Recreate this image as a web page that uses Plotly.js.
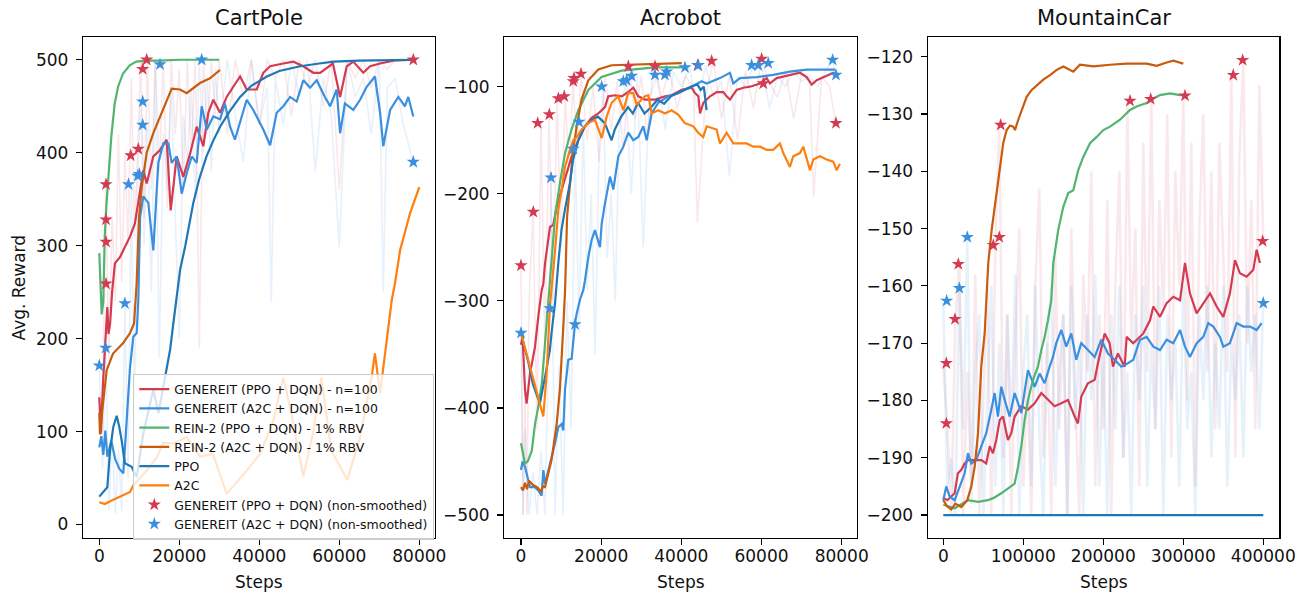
<!DOCTYPE html>
<html><head><meta charset="utf-8">
<script src="https://cdn.plot.ly/plotly-3.0.1.min.js"></script>
<style>html,body{margin:0;padding:0;background:#fff}#chart{width:1307px;height:595px}</style>
</head><body><div id="chart"></div>
<script>
// ---------------- CartPole ----------------
const cpGenPpoX = [0,200,400,900,1550,2000,2300,2700,3200,3900,5200,6400,7700,8900,9750,11000,11850,13500,15200,16850,17850,19350,21000,22700,24350,26000,27250,28500,30200,31850,33500,35200,36850,39350,41000,42700,46000,48500,51000,53500,55200,58400,60200,61850,63500,66000,67700,70200,73500,78500];
const cpGenPpoY = [137,120,98,150,200,234,205,216,250,281,288,299,310,324,346,381,367,396,403,414,338,396,374,399,428,407,443,457,443,460,471,482,468,468,486,493,496,498,493,486,486,496,460,493,498,486,493,496,499,500];
const cpGenA2cX = [0,500,1000,1500,2000,3000,4000,5000,6000,7000,7700,8500,9350,9750,10200,11000,12250,13500,14750,16000,17250,18100,19350,20600,21850,23100,24350,25600,26850,28500,30200,31400,32700,33900,35200,36850,38500,41000,42700,44350,46000,47700,49350,51000,52700,54350,56400,57700,59350,60200,61400,63500,65200,66850,68900,70200,71000,72700,74750,76400,77250,78500];
const cpGenA2cY = [83,95,75,101,73,90,70,60,55,123,170,202,206,241,331,353,346,295,389,410,410,389,396,356,378,396,389,450,425,439,436,453,428,414,432,457,446,425,408,443,450,460,455,478,470,478,460,450,468,421,453,446,457,471,482,443,407,446,460,450,460,439];
const cpReinPpoX = [0,300,600,1000,1350,1800,2200,3000,3850,4700,5900,7600,9250,12000,15000,20000,25000,30000];
const cpReinPpoY = [292,250,226,240,309,345,370,417,453,471,485,494,498,499,499,500,500,500];
const cpReinA2cX = [0,175,925,1850,3425,5925,7675,8675,9350,9925,10600,11850,13500,15175,16850,18100,20175,21850,25175,27675,30175];
const cpReinA2cY = [120,97,130,166,184,195,206,216,260,330,363,400,421,439,457,469,468,464,475,480,489];
const cpPpoX = [0,1000,2000,2700,3500,4350,5000,5600,6400,8100,9350,11000,13500,14800,16000,17700,18500,20200,21500,23500,25000,26800,28500,30200,32500,35200,38000,41900,45000,50200,55000,58500,65000,78500];
const cpPpoY = [30,35,40,80,105,117,105,90,66,62,51,98,145,120,150,188,216,274,300,346,372,396,413,428,444,460,472,482,488,493,496,498,499,500];
const cpA2cX = [0,1400,2700,5200,7700,8500,11850,14350,16000,18400,21850,25200,28400,31850,36850,40200,43400,46000,48000,51000,53500,55500,58000,62000,65200,68100,68900,70200,72250,73100,73900,75200,77700,80000];
const cpA2cY = [24,22,25,30,35,42,58,72,88,87,94,73,76,33,58,76,110,158,120,52,100,158,80,48,94,159,184,141,216,241,259,295,335,363];
const cpRawRedX = [0,800,1600,2400,3200,4000,4800,5600,6400,7200,8000,8800,9600,10400,11200,12000,13000,14000,15000,16000,17000,18000,19000,20000,21000,22000,23000,24000,25000,26000,27000,28000,29000,30000,32000,34000,36000,38000,40000,42000,44000,46000,48000,50000,52000,54000,56000,58000,60000,62000,64000,66000,68000,70000,72000,74000,76000,78500];
const cpRawRedY = [137,100,366,180,330,240,420,260,397,300,480,310,404,500,330,500,360,500,380,500,340,500,420,490,360,500,400,500,190,500,420,500,440,500,420,500,460,500,430,500,480,500,440,500,470,500,450,500,360,500,480,500,470,500,490,500,500,500];
const cpRawBlueX = [0,800,1600,2400,3200,4000,4800,5600,6400,7200,8000,8800,9600,10400,11200,12000,13000,14000,15000,16000,17000,18000,19000,20000,21000,22000,23000,24000,25000,26000,27000,28000,29000,30000,32000,34000,36000,38000,40000,42000,43000,44000,46000,48000,50000,52000,54000,56000,58000,60000,62000,64000,66000,68000,70000,71000,72000,74000,76000,78500];
const cpRawBlueY = [171,60,190,15,100,12,80,14,238,50,365,120,374,455,300,430,250,495,180,420,360,470,330,200,440,390,470,350,500,400,480,380,490,420,500,440,390,500,430,470,240,480,430,500,460,500,380,480,440,298,500,460,480,420,500,250,470,480,430,390];
const cpStarRedX = [1675,1675,1675,1675,7850,9750,10850,11850,78500];
const cpStarRedY = [366,328,304,259,397,404,490,500,500];
const cpStarBlueX = [0,1600,6400,7300,9600,10000,10850,10850,15175,25600,78500];
const cpStarBlueY = [171,190,238,366,375,377,430,455,495,500,390];

// ---------------- Acrobot ----------------
const acGenPpoX = [0,400,1000,1400,2250,3490,4310,5150,5570,6000,7230,8060,8900,10150,11390,12640,14290,15960,17630,19280,20950,21770,23440,25110,26760,28010,29260,30930,33420,35910,37580,40080,42570,43400,44240,44670,45490,47160,48800,50460,51300,52130,53790,55460,57130,59620,61260,62100,63770,67100,69590,71260,72510,73760,75400,77900,78320];
const acGenPpoY = [-341,-334,-383,-396,-368,-343,-315,-290,-284,-265,-231,-229,-212,-196,-181,-165,-150,-137,-129,-125,-119,-109,-108,-109,-105,-101,-109,-112,-112,-109,-108,-103,-101,-106,-109,-125,-115,-109,-105,-105,-109,-112,-103,-101,-100,-97,-92,-97,-92,-89,-87,-91,-98,-94,-91,-87,-89];
const acGenA2cX = [0,400,1000,2250,3490,4310,5150,5570,6000,7650,8480,9300,10150,10550,10970,11800,12640,13470,13890,14710,15540,15960,16800,17630,18450,19700,20130,20950,22200,23030,24280,25520,26770,28010,29260,30510,31350,32590,34230,36730,39220,42550,45040,46310,49630,52120,52950,54620,58780,62920,67080,71250,75400,78320];
const acGenA2cY = [-458,-450,-455,-474,-474,-477,-482,-458,-471,-446,-433,-418,-415,-421,-383,-355,-354,-321,-312,-299,-290,-281,-259,-243,-234,-250,-228,-209,-184,-196,-165,-156,-143,-150,-147,-137,-150,-125,-115,-109,-106,-100,-95,-97,-92,-87,-97,-92,-91,-89,-86,-84,-84,-84];
const acReinPpoX = [0,1000,1700,2700,3500,4300,5200,6000,6800,7700,8500,9700,11000,12600,14300,16800,20100,25100,33400,40100];
const acReinPpoY = [-433,-452,-450,-440,-415,-399,-377,-337,-302,-259,-221,-190,-162,-140,-122,-103,-91,-85,-82,-82];
const acReinA2cX = [0,500,1000,1500,2000,2500,3000,4000,5000,5500,6000,6500,7600,8900,9700,10600,11000,11500,12200,13000,13900,15100,16800,19300,22600,29300,40100];
const acReinA2cY = [-474,-477,-470,-476,-468,-470,-472,-474,-478,-473,-474,-466,-449,-415,-383,-321,-290,-221,-190,-159,-137,-112,-94,-84,-80,-79,-78];
const acPpoX = [0,1000,2000,3000,4700,6000,7200,7700,8500,9300,10100,10950,12200,13000,14300,15900,17600,19200,20900,22600,23400,25000,26700,27900,29200,30800,32500,34100,35700,37400,39000,40700,42300,44000,44800,45600,46300];
const acPpoY = [-330,-345,-360,-378,-396,-371,-346,-327,-302,-265,-234,-215,-190,-168,-150,-137,-131,-128,-134,-150,-140,-128,-119,-125,-115,-125,-119,-112,-116,-109,-106,-103,-100,-98,-103,-100,-122];
const acA2cX = [0,5560,6400,7200,8500,9300,10150,10970,12200,13050,13890,15130,16800,18450,20130,21370,22620,24260,25520,26760,28010,28850,30090,30930,31750,32590,34230,35900,37560,39210,40880,42970,44200,45470,46310,48800,49630,51300,52950,54620,56290,57940,59610,61280,62920,64590,65420,67080,67910,69580,70410,71250,72080,72900,74570,76240,77890,78730,79560];
const acA2cY = [-330,-408,-368,-306,-253,-215,-196,-175,-159,-150,-147,-140,-134,-131,-148,-128,-115,-109,-122,-106,-106,-117,-112,-109,-108,-125,-122,-125,-122,-126,-134,-137,-143,-147,-137,-140,-153,-143,-153,-153,-153,-156,-156,-159,-159,-153,-162,-175,-165,-162,-156,-167,-178,-168,-165,-168,-170,-178,-172];
const acRawRedX = [0,500,1000,1500,2000,3000,4000,5000,6000,7000,8000,9000,10000,11000,12000,13000,14000,15000,16500,18000,19500,21000,22500,24000,25500,27000,28500,30000,31500,33000,35000,37000,39000,41000,43000,44000,46000,48000,50000,52000,54000,56000,58000,60000,62000,64000,66000,68000,70000,72000,73000,75000,77000,78500];
const acRawRedY = [-267,-500,-380,-500,-300,-217,-420,-134,-350,-126,-300,-111,-250,-109,-180,-95,-160,-88,-150,-100,-170,-90,-140,-95,-160,-81,-130,-90,-150,-81,-110,-85,-120,-90,-100,-227,-110,-76,-130,-90,-150,-85,-120,-74,-97,-110,-85,-130,-88,-95,-203,-90,-100,-134];
const acRawBlueX = [0,500,1000,2000,3000,4000,5000,6000,7000,7500,8500,9500,10500,11500,12500,13500,14500,15500,16500,17500,18500,19500,20500,21500,22500,23500,24500,26000,27500,29000,30500,32000,34000,36000,38000,40000,42000,44000,46000,48000,50000,52000,54000,56000,58000,60000,62000,64000,66000,68000,70000,72000,74000,76000,77700,78500];
const acRawBlueY = [-330,-500,-420,-500,-460,-500,-440,-500,-307,-185,-500,-360,-500,-300,-420,-158,-330,-133,-290,-200,-350,-150,-100,-260,-200,-300,-140,-95,-200,-90,-250,-110,-89,-140,-86,-100,-82,-120,-80,-110,-95,-184,-90,-100,-80,-79,-120,-90,-100,-85,-95,-90,-100,-85,-75,-89];
const acStarRedX = [0,3070,4160,7060,9300,10800,13050,13220,14960,26770,33420,44070,47560,60030,60440,78560];
const acStarRedY = [-267,-217,-134,-126,-111,-109,-95,-92,-88,-81,-81,-80,-76,-74,-97,-134];
const acStarBlueX = [0,7230,7480,13050,13470,14470,20130,25520,26350,27600,33420,35900,36340,40900,44220,57530,59190,61680,77740,78560];
const acStarBlueY = [-330,-307,-185,-158,-322,-133,-100,-95,-94,-90,-89,-89,-86,-82,-80,-80,-80,-78,-75,-89];

// ---------------- MountainCar ----------------
const mcGenPpoX = [0,5000,14200,18300,22500,26700,30900,47500,53700,58000,62100,66200,70500,74600,80800,85000,89200,97500,105800,114200,122500,130800,139200,147500,155800,164200,168300,172500,180800,189200,193300,201700,207900,212100,218300,226700,229200,237400,250000,258400,262500,270900,279200,287500,295900,302100,308300,316700,325000,333400,341700,350000,358300,364600,370800,379200,387500,391700,395800];
const mcGenPpoY = [-197,-197.4,-196.2,-192.7,-192.1,-191,-190.4,-190.4,-191,-188,-189.2,-186.9,-183.4,-182.8,-186.9,-185.7,-182.8,-181,-181.6,-180.5,-178.7,-179.9,-181,-180.5,-179.9,-182.8,-184,-179.3,-177,-176.4,-173.5,-168.3,-170,-174.1,-171.8,-174.1,-168.9,-170,-168.3,-166,-163.6,-165.4,-163,-161.9,-162.5,-156,-161.3,-164.8,-163,-161.3,-163.6,-165.4,-161.3,-155.5,-157.8,-158.4,-157.2,-153.7,-156];
const mcGenA2cX = [0,3700,8000,14200,26700,30900,35000,41200,47500,53700,60000,64200,68300,72500,76700,82900,89200,97500,105800,114200,120400,126700,132900,137100,141200,147500,153700,160000,166200,172500,180800,189200,197500,205800,214200,222500,230800,237400,245800,254200,262500,270900,279200,287500,295900,302100,308300,316700,325000,331200,337500,345800,350000,358300,366700,375000,383400,391700,397900];
const mcGenA2cY = [-197.4,-195,-196.8,-197.4,-192.7,-189.2,-191,-190.4,-188,-185.7,-181.6,-178.7,-182.8,-177.6,-179.9,-182.8,-178.7,-182.2,-174.7,-177.6,-175.3,-177,-174.1,-172.4,-170,-167.7,-170.6,-168.3,-172.9,-170,-171.2,-172.4,-169.4,-171.8,-172.9,-174.1,-173.5,-172.9,-169.4,-168.9,-170.6,-171.2,-169.4,-170,-167.7,-170.6,-172.4,-170,-168.9,-166.5,-167.1,-168.9,-170.6,-170,-166.5,-167.1,-167.1,-167.7,-166.5];
const mcReinPpoX = [0,14200,30900,43400,55900,63000,72500,80800,89200,93400,97500,101700,105800,112100,118300,122500,126700,130800,135000,137500,143700,150000,156200,162500,168700,175000,183400,191700,200000,208400,220900,233400,241700,254200,262500,270900,283400,295900,302100];
const mcReinPpoY = [-198.2,-198.8,-197.4,-197.7,-197.4,-197,-196.2,-195.3,-194.5,-191.6,-188,-183.4,-180,-176.4,-174.1,-171.2,-168.9,-166,-162.5,-156,-150.2,-146.2,-143.8,-143.3,-139.8,-137.5,-135.1,-134,-132.8,-132.2,-131,-129.3,-128.7,-128.1,-127.3,-126.7,-126.4,-126.7,-126.7];
const mcReinA2cX = [0,5000,10000,15000,22500,30000,35000,39200,43400,45400,47500,51700,52700,56200,60500,64600,68800,70900,75000,79200,83400,87400,89600,93700,100000,104200,110500,116700,125000,133400,141800,150000,162500,170800,187500,208400,229200,254200,266700,279200,287500,300000];
const mcReinA2cY = [-197.4,-198.5,-199,-198,-198.6,-197.4,-195,-191.6,-185.7,-180,-174,-168.3,-166,-156,-150.2,-146,-141.5,-138.6,-135,-132.8,-132,-132.2,-132.8,-131,-128.7,-127,-125.8,-125,-124,-123.2,-122.3,-121.7,-122.6,-121.4,-121.7,-121.4,-121.2,-121.2,-121.6,-121,-120.7,-121.2];
const mcPpoX = [0,100000,200000,300000,400000];
const mcPpoY = [-200,-200,-200,-200,-200];
const mcRawX = [0,5000,10000,15000,20000,25000,30000,35000,40000,45000,50000,55000,60000,65000,70000,75000,80000,85000,90000,95000,100000,105000,110000,115000,120000,125000,130000,135000,140000,145000,150000,155000,160000,165000,170000,175000,180000,185000,190000,195000,200000,205000,210000,215000,220000,225000,230000,235000,240000,245000,250000,255000,260000,265000,270000,275000,280000,285000,290000,295000,300000,305000,310000,315000,320000,325000,330000,335000,340000,345000,350000,355000,360000,365000,370000,375000,380000,385000,390000,395000,400000];
const mcRawRedY = [-174,-184,-200,-166,-156,-200,-175,-195,-158,-200,-180,-160,-200,-153,-132,-190,-165,-200,-170,-150,-195,-175,-200,-160,-143,-190,-170,-200,-155,-185,-165,-200,-150,-180,-200,-158,-175,-140,-195,-165,-185,-145,-200,-160,-140,-190,-128,-170,-150,-195,-135,-175,-127,-185,-145,-165,-130,-190,-140,-160,-127,-180,-135,-195,-150,-130,-175,-140,-185,-135,-155,-175,-123,-190,-138,-121,-170,-145,-185,-125,-152];
const mcRawBlueY = [-163,-195,-190,-200,-160,-185,-152,-198,-175,-165,-200,-180,-160,-195,-170,-200,-165,-185,-158,-200,-175,-165,-195,-160,-185,-200,-170,-160,-195,-175,-165,-200,-160,-185,-170,-200,-165,-180,-158,-195,-170,-200,-165,-185,-160,-190,-175,-200,-165,-180,-160,-195,-170,-185,-160,-200,-165,-180,-170,-195,-160,-185,-175,-200,-165,-180,-160,-190,-170,-185,-160,-195,-170,-180,-165,-190,-160,-175,-165,-185,-163];
const mcStarRedX = [3750,3750,14600,18800,62500,70000,71700,233400,259200,302100,362500,374200,399200];
const mcStarRedY = [-173.5,-184,-165.8,-156.2,-152.9,-151.5,-131.9,-127.7,-127.4,-126.8,-123.2,-120.6,-152.2];
const mcStarBlueX = [4200,20000,30000,400000];
const mcStarBlueY = [-162.6,-160.4,-151.5,-163];

// ---------------- labels ----------------
const panelTitles = ['CartPole','Acrobot','MountainCar'];
const names = ['GENEREIT (PPO + DQN) - n=100','GENEREIT (A2C + DQN) - n=100','REIN-2 (PPO + DQN) - 1% RBV','REIN-2 (A2C + DQN) - 1% RBV','PPO','A2C','GENEREIT (PPO + DQN) (non-smoothed)','GENEREIT (A2C + DQN) (non-smoothed)'];
const cpXTicks = [0,20000,40000,60000,80000];
const mcXTicks = [0,100000,200000,300000,400000];
const cpYTicks = [0,100,200,300,400,500];
const acYTicks = [-500,-400,-300,-200,-100];
const mcYTicks = [-200,-190,-180,-170,-160,-150,-140,-130,-120];

// ---------------- styling ----------------
const COL = ['#d43a50','#3a8fde','#52b46f','#c95b0c','#1f77b4','#ff7f0e'];
const RAWRED = 'rgba(212,58,80,0.12)', RAWBLUE = 'rgba(58,143,222,0.12)';
const FONT = 'DejaVu Sans, Liberation Sans, sans-serif';
const W = 1307, H = 595;
const fx = p => p / W, fy = p => 1 - p / H;
const PX = [[83,435],[504.3,856.7],[927.7,1279.3]];
const TOP = 37, BOT = 538;

const traces = [];
function ax(i){ return i===1 ? ['x','y'] : ['x'+i,'y'+i]; }
function raw(x,y,color,i,w){ const a=ax(i); traces.push({type:'scatter',mode:'lines',x,y,xaxis:a[0],yaxis:a[1],showlegend:false,hoverinfo:'skip',line:{color,width:w||1.6}}); }
function ln(x,y,k,i){ const a=ax(i); traces.push({type:'scatter',mode:'lines',x,y,xaxis:a[0],yaxis:a[1],name:names[k],showlegend:i===1,hoverinfo:'skip',line:{color:COL[k],width:2.2}}); }
function st(x,y,k,i){ const a=ax(i); traces.push({type:'scatter',mode:'markers',x,y,xaxis:a[0],yaxis:a[1],name:names[k],showlegend:i===1,hoverinfo:'skip',marker:{symbol:'star',size:10,color:COL[k-6]}}); }

// CartPole
raw(cpRawRedX,cpRawRedY,RAWRED,1); raw(cpRawBlueX,cpRawBlueY,RAWBLUE,1);
ln(cpGenPpoX,cpGenPpoY,0,1); ln(cpGenA2cX,cpGenA2cY,1,1); ln(cpReinPpoX,cpReinPpoY,2,1);
ln(cpReinA2cX,cpReinA2cY,3,1); ln(cpPpoX,cpPpoY,4,1); ln(cpA2cX,cpA2cY,5,1);
st(cpStarRedX,cpStarRedY,6,1); st(cpStarBlueX,cpStarBlueY,7,1);
// Acrobot
raw(acRawRedX,acRawRedY,RAWRED,2); raw(acRawBlueX,acRawBlueY,RAWBLUE,2);
ln(acGenPpoX,acGenPpoY,0,2); ln(acGenA2cX,acGenA2cY,1,2); ln(acReinPpoX,acReinPpoY,2,2);
ln(acReinA2cX,acReinA2cY,3,2); ln(acPpoX,acPpoY,4,2); ln(acA2cX,acA2cY,5,2);
st(acStarRedX,acStarRedY,6,2); st(acStarBlueX,acStarBlueY,7,2);
// MountainCar
raw(mcRawX,mcRawRedY,'rgba(212,58,80,0.11)',3,2.6); raw(mcRawX,mcRawBlueY,'rgba(58,143,222,0.13)',3,2.6);
ln(mcGenPpoX,mcGenPpoY,0,3); ln(mcGenA2cX,mcGenA2cY,1,3); ln(mcReinPpoX,mcReinPpoY,2,3);
ln(mcReinA2cX,mcReinA2cY,3,3); ln(mcPpoX,mcPpoY,4,3);
st(mcStarRedX,mcStarRedY,6,3); st(mcStarBlueX,mcStarBlueY,7,3);

function axisBase(){
  return {showline:true, mirror:true, linecolor:'#000', linewidth:1.2, ticks:'outside', ticklen:6, tickwidth:1.2,
    tickcolor:'#000', showgrid:false, zeroline:false, automargin:false, fixedrange:true,
    tickfont:{family:FONT, size:17, color:'#111'}};
}
const layout = {
  width:W, height:H, margin:{l:0,r:0,t:0,b:0}, paper_bgcolor:'#fff', plot_bgcolor:'#fff',
  font:{family:FONT, color:'#111'}, showlegend:true,
  legend:{x:fx(133.3), y:fy(373.5), xanchor:'left', yanchor:'top', bgcolor:'rgba(255,255,255,0.8)',
    bordercolor:'#cccccc', borderwidth:1, font:{family:FONT, size:12.5, color:'#111'}, tracegroupgap:0},
  annotations:[]
};
const xr = [[-4075,83925],[-4165,83740],[-19500,420000]];
const yr = [[-14.5,524.5],[-521.5,-53.6],[-204.0,-116.56]];
const yt = [cpYTicks, acYTicks, mcYTicks];
const xt = [cpXTicks, cpXTicks, mcXTicks];
for (let i=0;i<3;i++){
  const n = i===0 ? '' : String(i+1);
  layout['xaxis'+n] = Object.assign(axisBase(), {domain:[fx(PX[i][0]),fx(PX[i][1])], anchor:'y'+n, range:xr[i],
    tickvals:xt[i], tickformat:'d', ticklabelstandoff:-4});
  layout['yaxis'+n] = Object.assign(axisBase(), {domain:[fy(BOT),fy(TOP)], anchor:'x'+n, range:yr[i],
    tickvals:yt[i], tickformat:'d', ticklabelstandoff:4});
  const cx = (PX[i][0]+PX[i][1])/2;
  layout.annotations.push({text:panelTitles[i], xref:'paper', yref:'paper', x:fx(cx), y:fy(18), xanchor:'center', yanchor:'middle', showarrow:false, font:{family:FONT, size:21, color:'#111'}});
  layout.annotations.push({text:'Steps', xref:'paper', yref:'paper', x:fx(cx), y:fy(582), xanchor:'center', yanchor:'middle', showarrow:false, font:{family:FONT, size:17, color:'#111'}});
}
layout.annotations.push({text:'Avg. Reward', xref:'paper', yref:'paper', x:fx(18), y:fy((TOP+BOT)/2), xanchor:'center', yanchor:'middle', textangle:-90, showarrow:false, font:{family:FONT, size:17, color:'#111'}});

Plotly.newPlot('chart', traces, layout, {displayModeBar:false, staticPlot:true});
</script>
</body></html>
